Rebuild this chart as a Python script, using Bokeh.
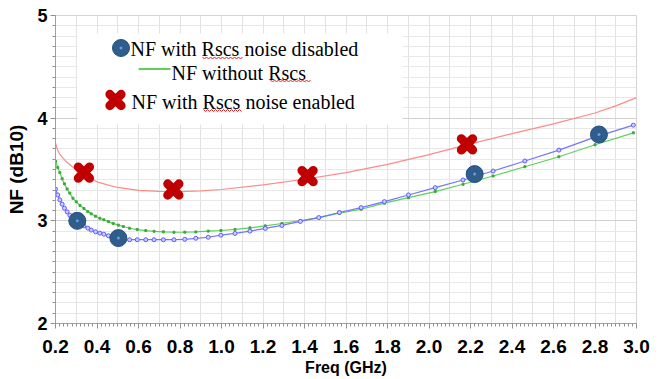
import numpy as np
from bokeh.plotting import figure
from bokeh.models import FixedTicker, Range1d
from bokeh.core.properties import value
from bokeh.embed import file_html
from bokeh.resources import INLINE

# ---------------- data ----------------
freq_disabled = [0.200, 0.211, 0.221, 0.232, 0.243, 0.256, 0.269, 0.284, 0.300, 0.318,
                 0.337, 0.356, 0.372, 0.393, 0.414, 0.433, 0.455, 0.478, 0.503, 0.527,
                 0.557, 0.594, 0.635, 0.675, 0.720, 0.771, 0.823, 0.876, 0.936, 0.997,
                 1.065, 1.137, 1.211, 1.291, 1.380, 1.469, 1.568, 1.673, 1.785, 1.901,
                 2.030, 2.164, 2.309, 2.462, 2.626, 2.800, 2.985]
nf_disabled = [3.308, 3.252, 3.204, 3.162, 3.123, 3.087, 3.055, 3.022, 2.993, 2.970,
               2.951, 2.929, 2.910, 2.893, 2.880, 2.870, 2.855, 2.842, 2.832, 2.820,
               2.816, 2.816, 2.816, 2.816, 2.816, 2.816, 2.820, 2.830, 2.840, 2.860,
               2.877, 2.900, 2.926, 2.955, 2.994, 3.032, 3.081, 3.129, 3.187, 3.252,
               3.323, 3.398, 3.485, 3.583, 3.689, 3.815, 3.932]

freq_without = freq_disabled
nf_without = [3.580, 3.520, 3.470, 3.410, 3.360, 3.310, 3.270, 3.220, 3.185, 3.150,
              3.120, 3.090, 3.068, 3.045, 3.025, 3.010, 2.992, 2.975, 2.958, 2.945,
              2.928, 2.915, 2.905, 2.898, 2.893, 2.889, 2.890, 2.892, 2.900, 2.906,
              2.916, 2.932, 2.951, 2.974, 3.003, 3.032, 3.075, 3.113, 3.172, 3.226,
              3.285, 3.356, 3.437, 3.527, 3.624, 3.741, 3.857]

freq_enabled = [0.20, 0.21, 0.22, 0.25, 0.28, 0.30, 0.35, 0.40, 0.45, 0.50, 0.60, 0.70,
                0.80, 0.90, 1.00, 1.20, 1.40, 1.60, 1.80, 2.00, 2.20, 2.40, 2.60, 2.80,
                2.90, 3.00]
nf_enabled = [3.76, 3.69, 3.65, 3.58, 3.53, 3.50, 3.43, 3.38, 3.35, 3.325, 3.297, 3.286,
              3.285, 3.292, 3.305, 3.350, 3.405, 3.470, 3.550, 3.645, 3.750, 3.850, 3.945,
              4.050, 4.120, 4.200]

freq_disabled_mark = [0.305, 0.503, 2.220, 2.819]
nf_disabled_mark = [3.000, 2.832, 3.455, 3.841]
freq_enabled_mark = [0.337, 0.768, 1.415, 2.183]
nf_enabled_mark = [3.470, 3.305, 3.435, 3.745]

x_ticks = [0.2, 0.4, 0.6, 0.8, 1.0, 1.2, 1.4, 1.6, 1.8, 2.0, 2.2, 2.4, 2.6, 2.8, 3.0]
x_tick_labels = ["0.2", "0.4", "0.6", "0.8", "1.0", "1.2", "1.4", "1.6", "1.8", "2.0",
                 "2.2", "2.4", "2.6", "2.8", "3.0"]
y_ticks = [2, 3, 4, 5]
y_tick_labels = ["2", "3", "4", "5"]
legend_labels = ["NF with Rscs noise disabled", "NF without Rscs", "NF with Rscs noise enabled"]

# ---------------- layout (canvas pixels) ----------------
W, H = 662, 379
FL, FR, FT, FB = 55, 636, 15, 323
X0, X1, Y0, Y1 = 0.2, 3.0, 2.0, 5.0


def px_x(px):
    return X0 + (px - FL) * (X1 - X0) / (FR - FL)


def px_y(py):
    return Y1 - (py - FT) * (Y1 - Y0) / (FB - FT)


p = figure(width=W, height=H, x_range=Range1d(X0, X1), y_range=Range1d(Y0, Y1),
           output_backend="svg", toolbar_location=None,
           min_border_left=FL, min_border_right=W - FR,
           min_border_top=FT, min_border_bottom=H - FB)
p.background_fill_color = "white"
p.border_fill_color = "white"
p.outline_line_color = "#d4d4d4"

# grids
p.xgrid.ticker = FixedTicker(ticks=list(np.round(np.arange(0.2, 3.001, 0.1), 2)))
p.xgrid.grid_line_color = "#e2e2e2"
p.ygrid.ticker = FixedTicker(ticks=y_ticks,
                             minor_ticks=list(np.round(np.arange(2.0, 5.001, 0.1), 2)))
p.ygrid.grid_line_color = "#d0d0d0"
p.ygrid.minor_grid_line_color = "#e8e8e8"

# axes
ax = p.xaxis[0]
ax.ticker = FixedTicker(ticks=x_ticks, minor_ticks=list(np.round(np.arange(0.2, 3.001, 0.02), 2)))
ax.major_label_overrides = {t: s for t, s in zip(x_ticks, x_tick_labels)}
ax.axis_label = "Freq (GHz)"
ay = p.yaxis[0]
ay.ticker = FixedTicker(ticks=y_ticks, minor_ticks=list(np.round(np.arange(2.0, 5.001, 0.1), 2)))
ay.major_label_overrides = {t: s for t, s in zip(y_ticks, y_tick_labels)}
ay.axis_label = "NF (dB10)"
for a in (ax, ay):
    a.axis_line_color = "#a0a0a0"
    a.major_tick_line_color = "#909090"
    a.minor_tick_line_color = "#909090"
    a.major_tick_in = 0
    a.minor_tick_in = 0
    a.major_tick_out = 5
    a.minor_tick_out = 3
    a.major_label_text_font = "Liberation Sans"
    a.major_label_text_font_style = "bold"
    a.major_label_text_color = "black"
    a.axis_label_text_font = "Liberation Sans"
    a.axis_label_text_font_style = "bold"
    a.axis_label_text_color = "black"
ax.major_label_text_font_size = "19px"
ax.major_label_standoff = 11
ax.axis_label_text_font_size = "16px"
ax.axis_label_standoff = 3
ay.major_label_text_font_size = "18px"
ay.major_label_standoff = 3
ay.axis_label_text_font_size = "19px"
ay.axis_label_standoff = 7

# curves
p.line(freq_enabled, nf_enabled, line_color="#ff8a8a", line_width=1.2)
p.line(freq_without, nf_without, line_color="#5cd05c", line_width=1.2)
p.scatter(freq_without, nf_without, marker="square", size=2, fill_color="#3caa3c",
          line_color="#3caa3c")
p.line(freq_disabled, nf_disabled, line_color="#7474ff", line_width=1.2)
p.scatter(freq_disabled, nf_disabled, marker="circle", size=4, fill_color="#d0d0ff",
          line_color="#5c5cff", line_width=1)

# big markers
p.scatter(freq_disabled_mark, nf_disabled_mark, marker="circle", size=17,
          fill_color="#2f5d8e", line_color="#25507c", line_width=1)
p.scatter(freq_disabled_mark, nf_disabled_mark, marker="circle", size=3,
          fill_color="#6f9ccc", line_color=None)
p.scatter(freq_enabled_mark, nf_enabled_mark, marker="x", size=16, line_width=9,
          line_color="#c00000", line_cap="round")

# legend block (white box over the grid)
p.quad(left=[px_x(77)], right=[px_x(402)], top=[px_y(33)], bottom=[px_y(124)],
       fill_color="white", line_color=None)
p.scatter([px_x(120.5)], [px_y(47.5)], marker="circle", size=17,
          fill_color="#2f5d8e", line_color="#25507c", line_width=1)
p.scatter([px_x(120.5)], [px_y(47.5)], marker="circle", size=3,
          fill_color="#6f9ccc", line_color=None)
p.line([px_x(138), px_x(170)], [px_y(68.5), px_y(68.5)], line_color="#2cc02c", line_width=1.5)
p.scatter([px_x(115)], [px_y(99.5)], marker="x", size=16, line_width=9,
          line_color="#c00000", line_cap="round")
p.text(x=[px_x(130), px_x(171), px_x(131)], y=[px_y(48.5), px_y(72), px_y(101)],
       text=legend_labels, text_font=value("Liberation Serif"), text_font_size="20px",
       text_baseline="middle", text_align="left", text_color="black")

# spell-check squiggles under "Rscs"
sq_x, sq_y = [], []
for xa, xb, yy in [(202, 242, 57.5), (270, 310, 80.5), (203, 242, 110)]:
    pts = np.arange(xa, xb + 0.1, 2.0)
    sq_x.append([px_x(v) for v in pts])
    sq_y.append([px_y(yy + (1.0 if i % 2 else -1.0)) for i in range(len(pts))])
p.multi_line(sq_x, sq_y, line_color="#e02020", line_width=1)

open("out.html", "w").write(file_html(p, INLINE))
